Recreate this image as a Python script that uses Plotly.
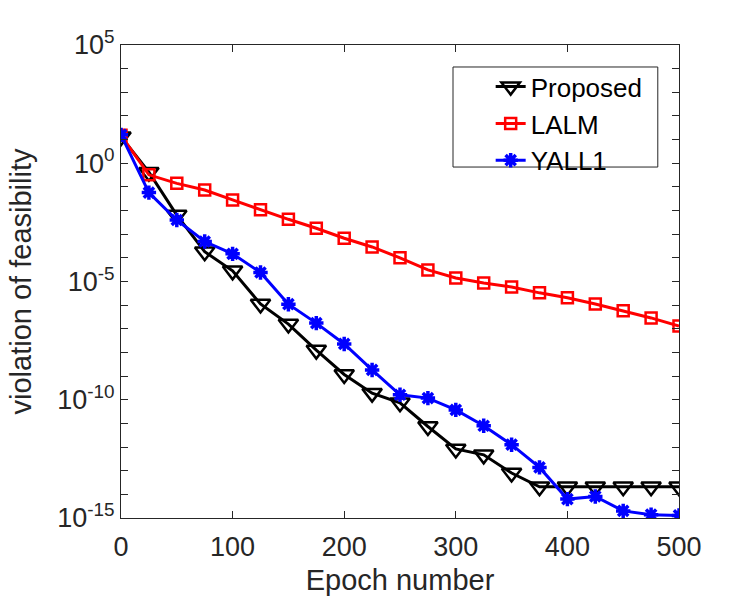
import plotly.graph_objects as go

epochs = [0, 25, 50, 75, 100, 125, 150, 175, 200, 225, 250, 275, 300, 325, 350, 375, 400, 425, 450, 475, 500]

# log10 of violation of feasibility
proposed_log = [1.12, -0.38, -2.19, -3.74, -4.55, -5.95, -6.8, -7.9, -8.93, -9.72, -10.13, -11.13, -12.08, -12.33, -13.1, -13.68, -13.68, -13.68, -13.68, -13.68, -13.68]
lalm_log = [1.18, -0.49, -0.85, -1.13, -1.55, -1.97, -2.37, -2.75, -3.17, -3.54, -4.0, -4.51, -4.85, -5.06, -5.23, -5.48, -5.69, -5.95, -6.24, -6.54, -6.88]
yall1_log = [1.2, -1.24, -2.4, -3.31, -3.83, -4.62, -5.96, -6.76, -7.64, -8.74, -9.79, -9.93, -10.43, -11.1, -11.9, -12.86, -14.2, -14.09, -14.7, -14.86, -14.89]

y_tick_exps = list(range(-15, 6))
y_tick_labels = {5: "10<sup>5</sup>", 0: "10<sup>0</sup>", -5: "10<sup>-5</sup>", -10: "10<sup>-10</sup>", -15: "10<sup>-15</sup>"}
x_ticks = [0, 100, 200, 300, 400, 500]
series_names = ["Proposed", "LALM", "YALL1"]

proposed = [10 ** v for v in proposed_log]
lalm = [10 ** v for v in lalm_log]
yall1 = [10 ** v for v in yall1_log]

fig = go.Figure()
fig.add_trace(go.Scatter(x=epochs, y=proposed, name=series_names[0], mode="lines+markers",
                         line=dict(color="black", width=3),
                         marker=dict(symbol="triangle-down-open", size=17, color="black", line=dict(width=2.5, color="black"))))
fig.add_trace(go.Scatter(x=epochs, y=lalm, name=series_names[1], mode="lines+markers",
                         line=dict(color="#ff0000", width=3),
                         marker=dict(symbol="square-open", size=11, color="#ff0000", line=dict(width=2.5, color="#ff0000"))))
fig.add_trace(go.Scatter(x=epochs, y=yall1, name=series_names[2], mode="lines+markers",
                         line=dict(color="#0000ff", width=3),
                         marker=dict(symbol="asterisk-open", size=12, color="#0000ff", line=dict(width=3.5, color="#0000ff"))))

axis_color = "#262626"
fig.add_shape(type="rect", xref="paper", yref="paper", x0=0.595, x1=0.962, y0=0.742, y1=0.9535,
              line=dict(color="#262626", width=1), fillcolor="white", layer="above")

fig.update_layout(
    width=750, height=600,
    margin=dict(l=121, r=71, t=45, b=82),
    paper_bgcolor="white", plot_bgcolor="white",
    font=dict(family="Liberation Sans, Arial, sans-serif", size=26, color=axis_color),
    showlegend=True,
    legend=dict(x=0.6625, y=0.9615, xanchor="left", yanchor="top",
                bgcolor="rgba(0,0,0,0)", borderwidth=0,
                font=dict(size=26, color="black"),
                tracegroupgap=0),
    xaxis=dict(range=[0, 500], tickvals=x_ticks, ticks="inside", ticklen=7,
               showline=True, linecolor=axis_color, linewidth=1, mirror="allticks",
               tickcolor=axis_color, showgrid=False, zeroline=False, automargin=False,
               tickfont=dict(size=27), ticklabelstandoff=5,
               title=dict(text="Epoch number", font=dict(size=29), standoff=8)),
    yaxis=dict(type="log", range=[-15, 5],
               tickvals=[10 ** e for e in y_tick_exps],
               ticktext=[y_tick_labels.get(e, "") for e in y_tick_exps],
               ticks="inside", ticklen=7,
               showline=True, linecolor=axis_color, linewidth=1, mirror="allticks",
               tickcolor=axis_color, showgrid=False, zeroline=False, automargin=False,
               tickfont=dict(size=27),
               title=dict(text="violation of feasibility", font=dict(size=29), standoff=17)),
)

fig.write_html("out.html")
